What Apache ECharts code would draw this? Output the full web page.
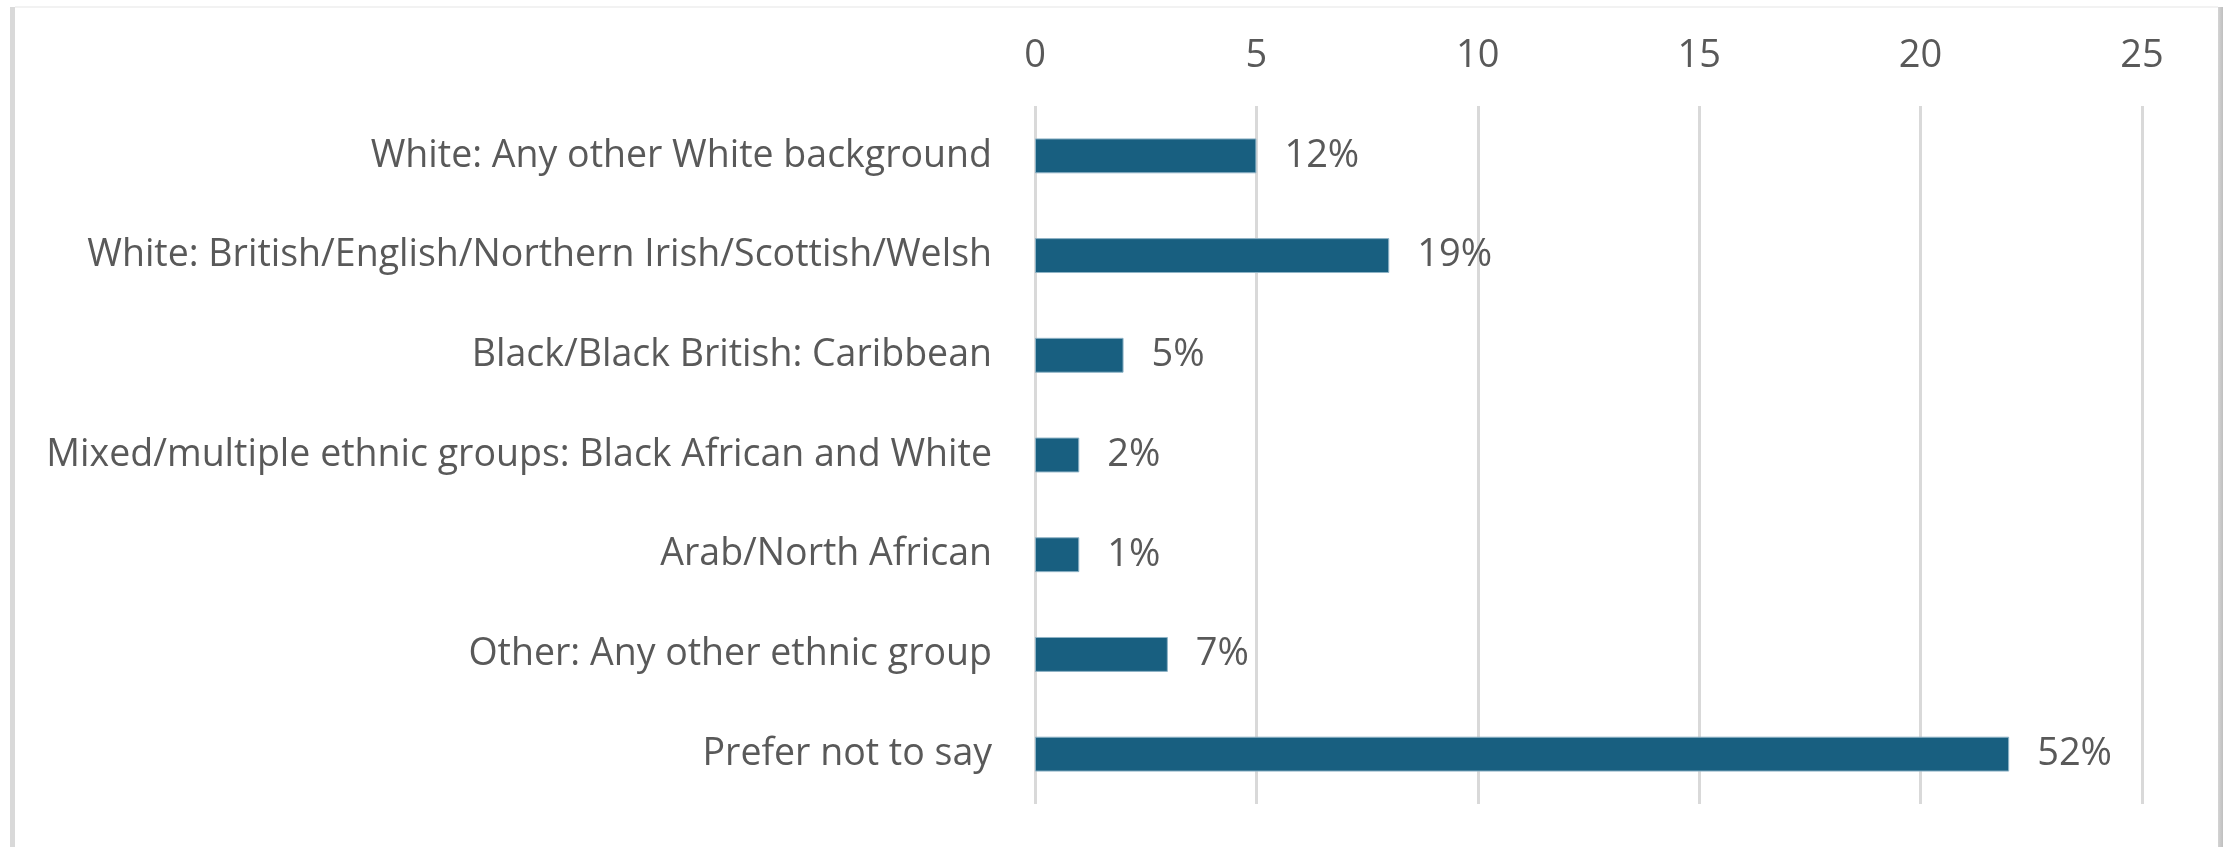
<!DOCTYPE html>
<html>
<head>
<meta charset="utf-8">
<script src="https://cdn.jsdelivr.net/npm/echarts@6/dist/echarts.min.js"></script>
<style>
  html, body { margin: 0; padding: 0; background: #ffffff; }
  #chart { width: 2232px; height: 847px; }
</style>
</head>
<body>
<div id="chart"></div>
<script>
// Respondents by ethnic group (counts), with the share shown beside each bar
const categories = [
  'White: Any other White background',
  'White: British/English/Northern Irish/Scottish/Welsh',
  'Black/Black British: Caribbean',
  'Mixed/multiple ethnic groups: Black African and White',
  'Arab/North African',
  'Other: Any other ethnic group',
  'Prefer not to say'
];
const counts = [5, 8, 2, 1, 1, 3, 22];
const shareLabels = ['12%', '19%', '5%', '2%', '1%', '7%', '52%'];
const axisTicks = [0, 5, 10, 15, 20, 25];

const textColor = '#595959';
const fontFamily = '"Open Sans", "Liberation Sans", Arial, sans-serif';

const chart = echarts.init(document.getElementById('chart'), null, { renderer: 'canvas' });

chart.setOption({
  animation: false,
  backgroundColor: '#ffffff',
  graphic: [
    // frame around the chart area
    { type: 'rect', shape: { x: 15, y: 6, width: 2203, height: 2 }, style: { fill: '#f2f2f2' }, silent: true },
    { type: 'rect', shape: { x: 10, y: 7, width: 5, height: 840 }, style: { fill: '#d9d9d9' }, silent: true },
    { type: 'rect', shape: { x: 2218, y: 7, width: 5, height: 840 },
      style: { fill: new echarts.graphic.LinearGradient(0, 0, 1, 0, [
        { offset: 0, color: '#d4d4d4' }, { offset: 1, color: '#bfbfbf' }
      ]) }, silent: true }
  ],
  grid: { left: 1035, right: 90, top: 106, bottom: 43, containLabel: false },
  xAxis: {
    type: 'value',
    position: 'top',
    min: axisTicks[0],
    max: axisTicks[axisTicks.length - 1],
    interval: axisTicks[1] - axisTicks[0],
    axisLine: { show: false },
    axisTick: { show: false },
    splitLine: { show: true, lineStyle: { color: '#d9d9d9', width: 3 } },
    axisLabel: { color: textColor, fontSize: 38, fontFamily: fontFamily, margin: 31 }
  },
  yAxis: {
    type: 'category',
    data: categories,
    inverse: true,
    axisLine: { show: false },
    axisTick: { show: false },
    axisLabel: { color: textColor, fontSize: 37.5, fontFamily: fontFamily, margin: 43 }
  },
  series: [{
    type: 'bar',
    data: counts,
    barWidth: '35%',
    itemStyle: { color: '#185f80', borderColor: '#8fb3c6', borderWidth: 1 },
    label: {
      show: true,
      position: 'right',
      distance: 28,
      color: textColor,
      fontSize: 38,
      fontFamily: fontFamily,
      formatter: (p) => shareLabels[p.dataIndex]
    }
  }]
});
</script>
</body>
</html>
